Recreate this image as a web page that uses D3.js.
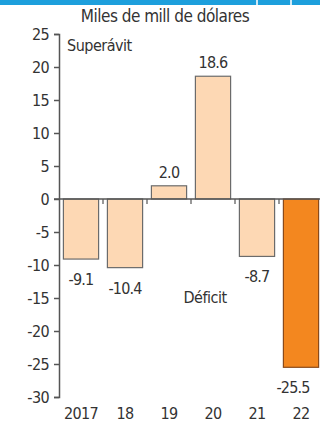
<!DOCTYPE html>
<html>
<head>
<meta charset="utf-8">
<script src="https://cdn.jsdelivr.net/npm/d3@7"></script>
<style>
  body { margin: 0; background: #fff; }
  text { font-family: "Liberation Sans Narrow", "DejaVu Sans Condensed", sans-serif; fill: #333; }
</style>
</head>
<body>
<div id="chart"></div>
<script>
const years = ['2017', '18', '19', '20', '21', '22'];
const balance = [-9.1, -10.4, 2.0, 18.6, -8.7, -25.5];
const yTicks = [25, 20, 15, 10, 5, 0, -5, -10, -15, -20, -25, -30];

const width = 320, height = 429;
const fontStack = '"Liberation Sans Narrow", "DejaVu Sans Condensed", sans-serif';

const svg = d3.select('#chart').append('svg')
  .attr('width', width)
  .attr('height', height);

// cut-off header strip
svg.append('rect').attr('x', 0).attr('y', 0).attr('width', width).attr('height', 5).attr('fill', '#1d9fdc');
[256, 290].forEach(x => {
  svg.append('rect').attr('x', x).attr('y', 0).attr('width', 2).attr('height', 5).attr('fill', '#cfe9f6');
});

const xScale = d3.scaleBand()
  .domain(years)
  .range([59, 323])
  .paddingInner(0.2)
  .paddingOuter(0.1);

const yScale = d3.scaleLinear()
  .domain([-30, 25])
  .range([397, 34]);

// hyphen instead of unicode minus, as in the original
const fmt = v => d3.format('.1f')(v).replace('\u2212', '-');

// title
svg.append('text')
  .attr('x', 165).attr('y', 22)
  .attr('text-anchor', 'middle')
  .attr('font-size', '17px')
  .attr('letter-spacing', '-0.5')
  .text('Miles de mill de dólares');

// y axis
const yAxis = svg.append('g')
  .attr('transform', 'translate(59,0)')
  .call(d3.axisLeft(yScale).tickValues(yTicks).tickSize(5).tickPadding(5).tickFormat(d => String(d)));
yAxis.select('.domain').attr('stroke', '#555').attr('stroke-width', 1.5);
yAxis.selectAll('.tick line').attr('stroke', '#555').attr('stroke-width', 1.5);
yAxis.selectAll('.tick text')
  .attr('font-size', '16px')
  .attr('letter-spacing', '-0.6')
  .attr('font-family', fontStack)
  .attr('fill', '#333');

// bars
svg.selectAll('.bar')
  .data(years)
  .enter()
  .append('rect')
  .attr('class', 'bar')
  .attr('x', d => xScale(d))
  .attr('width', xScale.bandwidth())
  .attr('y', (d, i) => yScale(Math.max(0, balance[i])))
  .attr('height', (d, i) => Math.abs(yScale(balance[i]) - yScale(0)))
  .attr('fill', (d, i) => i === years.length - 1 ? '#f3871f' : '#fdd8b4')
  .attr('stroke', (d, i) => i === years.length - 1 ? '#8a4a1a' : '#6b6b6b')
  .attr('stroke-width', 1.2);

// zero line
svg.append('line')
  .attr('x1', 54).attr('x2', width)
  .attr('y1', yScale(0)).attr('y2', yScale(0))
  .attr('stroke', '#555').attr('stroke-width', 1.5);

// small ticks between categories on zero line
years.slice(1).forEach(y => {
  const xPos = xScale(y) - xScale.step() * xScale.paddingInner() / 2;
  svg.append('line')
    .attr('x1', xPos).attr('x2', xPos)
    .attr('y1', yScale(0)).attr('y2', yScale(0) + 5)
    .attr('stroke', '#555').attr('stroke-width', 1.2);
});

// value labels
svg.selectAll('.val')
  .data(years)
  .enter()
  .append('text')
  .attr('class', 'val')
  .attr('x', d => Math.min(xScale(d) + xScale.bandwidth() / 2, 293))
  .attr('y', (d, i) => balance[i] >= 0 ? yScale(balance[i]) - 8 : yScale(balance[i]) + 26)
  .attr('text-anchor', 'middle')
  .attr('font-size', '16px')
  .attr('letter-spacing', '-0.8')
  .text((d, i) => fmt(balance[i]));

// category labels
svg.selectAll('.yr')
  .data(years)
  .enter()
  .append('text')
  .attr('class', 'yr')
  .attr('x', d => xScale(d) + xScale.bandwidth() / 2)
  .attr('y', 419)
  .attr('text-anchor', 'middle')
  .attr('font-size', '16px')
  .attr('letter-spacing', '-0.6')
  .text(d => d);

svg.append('text')
  .attr('x', 67).attr('y', 51)
  .attr('font-size', '16px')
  .attr('letter-spacing', '-0.5')
  .text('Superávit');

svg.append('text')
  .attr('x', 205).attr('y', 303)
  .attr('text-anchor', 'middle')
  .attr('font-size', '16px')
  .attr('letter-spacing', '-0.5')
  .text('Déficit');
</script>
</body>
</html>
